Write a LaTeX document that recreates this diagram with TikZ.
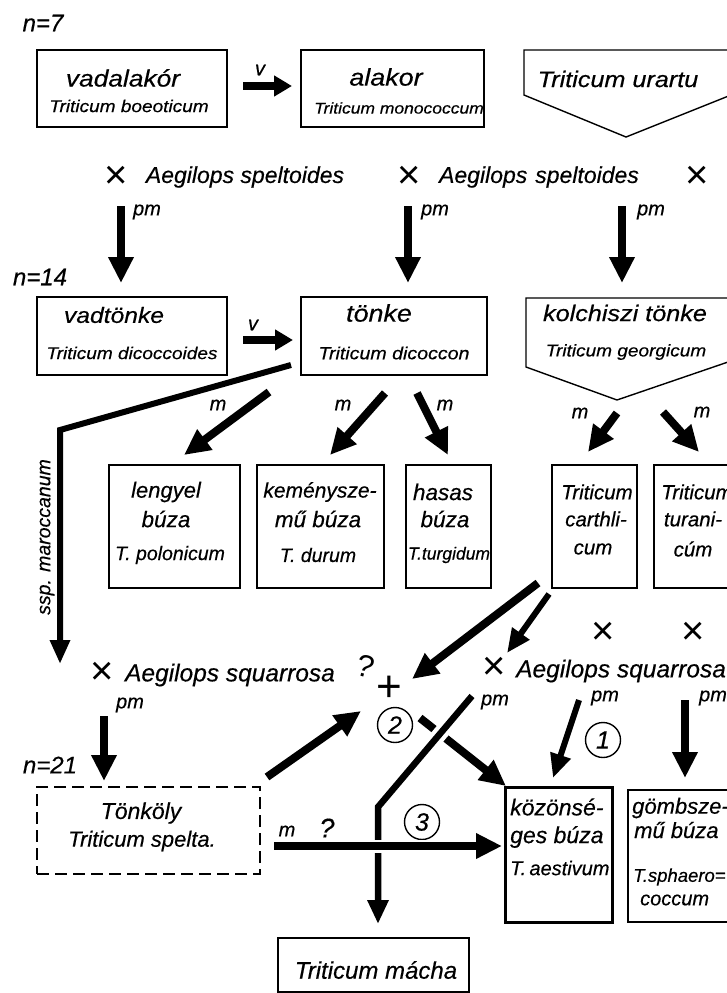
\documentclass[tikz,border=0pt]{standalone}
\usepackage{fontspec}
\setmainfont{Liberation Sans}[FakeBold=0.4]
\newfontfamily\widef{Liberation Sans}[FakeStretch=1.12, FakeBold=0.4]
\newfontfamily\plainf{Liberation Sans}
\usetikzlibrary{arrows.meta}
\newcommand\fsz[1]{\fontsize{#1}{#1}\selectfont\itshape}
\newcommand\wsz[1]{\widef\fontsize{#1}{#1}\selectfont\itshape}
\begin{document}
\begin{tikzpicture}[x=1pt,y=-1pt,
  box/.style={draw, line width=1.4pt, inner sep=0pt},
  txt/.style={inner sep=0pt, font=\fsz{#1}},
  wtxt/.style={inner sep=0pt, font=\wsz{#1}},
  crossx/.style={inner sep=0pt, font=\plainf\fontsize{40}{40}\selectfont},
  arr/.style={line width=8pt, -{Triangle[length=26pt,width=24pt]}},
  varr/.style={line width=8pt, -{Triangle[length=18pt,width=20pt]}},
  thinarr/.style={line width=6pt, -{Triangle[length=24pt,width=20pt]}},
  thickline/.style={line width=6.5pt},
  numc/.style={draw, circle, line width=1.4pt, minimum width=35pt, minimum height=33pt, inner sep=0pt, font=\fsz{25}}]
\useasboundingbox (0,0) rectangle (727,993);
\clip (0,0) rectangle (727,993);

% ---------- labels n ----------
\node[txt=24] (n7) at (43,23) {n=7};
\node[txt=24] (n14) at (40,277) {n=14};
\node[txt=24] (n21) at (50,765) {n=21};

% ---------- row 1 ----------
\node[box, minimum width=190pt, minimum height=77pt] (b1) at (132,88.5) {};
\node[wtxt=23.5] (t1a) at (123,78) {vadalakór};
\node[wtxt=17] (t1b) at (129,106) {Triticum boeoticum};
\node[box, minimum width=183pt, minimum height=77pt] (b2) at (392.5,88.5) {};
\node[wtxt=24] (t2a) at (386,77) {alakor};
\node[wtxt=15.6] (t2b) at (399,108) {Triticum monococcum};
\draw[box] (524,50) -- (524,95) -- (626,137) -- (731,95) -- (731,50) -- cycle;
\node[wtxt=22.5] (t3) at (618,79) {Triticum urartu};
\node[txt=20] (v1) at (260,70) {v};
\coordinate (v1s) at (243,86);
\coordinate (v1e) at (292,86);
\draw[varr] (v1s) -- (v1e);

% ---------- crosses with Aegilops speltoides ----------
\node[crossx] (x1) at (116,177) {×};
\node[txt=23] (ae1) at (245,177) {Aegilops speltoides};
\node[crossx] (x2) at (409,177) {×};
\node[txt=23] (ae2) at (539,177) {Aegilops\hspace{8pt}speltoides};
\node[crossx] (x3) at (697,177) {×};

\node[txt=20] (pm1) at (147,212) {pm};
\node[txt=20] (pm2) at (435,212) {pm};
\node[txt=20] (pm3) at (651,212) {pm};
\coordinate (a1s) at (121,206);
\coordinate (a1e) at (121,283);
\coordinate (a2s) at (408,206);
\coordinate (a2e) at (408,283);
\coordinate (a3s) at (622,206);
\coordinate (a3e) at (622,283);
\draw[arr] (a1s) -- (a1e);
\draw[arr] (a2s) -- (a2e);
\draw[arr] (a3s) -- (a3e);

% ---------- row 2 ----------
\node[box, minimum width=190pt, minimum height=78pt] (b4) at (132,336) {};
\node[wtxt=22] (t4a) at (114,315) {vadtönke};
\node[wtxt=17] (t4b) at (132,353) {Triticum dicoccoides};
\node[box, minimum width=186pt, minimum height=78pt] (b5) at (394,336) {};
\node[wtxt=24] (t5a) at (379,313) {tönke};
\node[wtxt=17.5] (t5b) at (394,353) {Triticum dicoccon};
\draw[box] (526,298) -- (526,367) -- (617,400) -- (731,361) -- (731,298) -- cycle;
\coordinate (p6tip) at (617,400);
\node[wtxt=22.5] (t6a) at (625,313) {kolchiszi tönke};
\node[wtxt=17] (t6b) at (626,352) {Triticum georgicum};
\node[txt=20] (v2) at (253,325) {v};
\coordinate (v2s) at (243,340);
\coordinate (v2e) at (293,340);
\draw[varr] (v2s) -- (v2e);

% ---------- ssp. maroccanum line ----------
\coordinate (s0) at (291,365);
\coordinate (s1) at (60,430);
\coordinate (s2) at (60,664);
\draw[line width=6pt, -{Triangle[length=24pt,width=19pt]}] (s0) -- (s1) -- (s2);
\node[txt=19.5, rotate=90] (ssp) at (47,537) {ssp. maroccanum};

% ---------- m arrows ----------
\node[txt=20] (m1) at (218,405) {m};
\node[txt=20] (m2) at (343,405) {m};
\node[txt=20] (m3) at (445,405) {m};
\node[txt=20] (m4) at (580,413) {m};
\node[txt=20] (m5) at (702,412) {m};
\coordinate (m1s) at (269,392);
\coordinate (m1e) at (184,455);
\coordinate (m2s) at (385,393);
\coordinate (m2e) at (330,455);
\coordinate (m3s) at (417,393);
\coordinate (m3e) at (448,455);
\coordinate (m4s) at (617,413);
\coordinate (m4e) at (588,452);
\coordinate (m5s) at (663,412);
\coordinate (m5e) at (699,452);
\draw[arr] (m1s) -- (m1e);
\draw[arr] (m2s) -- (m2e);
\draw[arr] (m3s) -- (m3e);
\draw[arr] (m4s) -- (m4e);
\draw[arr] (m5s) -- (m5e);

% ---------- row 3 ----------
\node[box, minimum width=131pt, minimum height=123pt] (b7) at (174.5,526.5) {};
\node[txt=22] (t7a) at (166,492) {lengyel};
\node[txt=22.5] (t7b) at (166,519) {búza};
\node[txt=19.5] (t7c) at (170,555) {T. polonicum};
\node[box, minimum width=127pt, minimum height=123pt] (b8) at (320.5,526.5) {};
\node[txt=21] (t8a) at (320,492) {keménysze-};
\node[txt=22.5] (t8b) at (318,519) {mű búza};
\node[txt=19.5] (t8c) at (318,555) {T. durum};
\node[box, minimum width=85pt, minimum height=123pt] (b9) at (448.5,526.5) {};
\node[txt=22.5] (t9a) at (443,492) {hasas};
\node[txt=22.5] (t9b) at (445,519) {búza};
\node[txt=17.5] (t9c) at (449,555) {T.turgidum};
\node[box, minimum width=85pt, minimum height=123pt] (b10) at (594.5,526.5) {};
\node[txt=20.5] (t10a) at (597,492) {Triticum};
\node[txt=20.5] (t10b) at (596,519) {carthli-};
\node[txt=20.5] (t10c) at (593,549) {cum};
\node[box, minimum width=91pt, minimum height=123pt] (b11) at (699.5,526.5) {};
\node[txt=20.5] (t11a) at (697,492) {Triticum};
\node[txt=20.5] (t11b) at (693,519) {turani-};
\node[txt=20.5] (t11c) at (693,549) {cúm};

% ---------- crossing from carthlicum ----------
\coordinate (cAs) at (538,583);
\coordinate (cAe) at (412,679);
\coordinate (cBs) at (549,594);
\coordinate (cBe) at (507,653);
\draw[arr] (cAs) -- (cAe);
\draw[thinarr] (cBs) -- (cBe);

\node[crossx] (x4) at (603,633) {×};
\node[crossx] (x5) at (693,633) {×};
\node[crossx] (x6) at (102,673) {×};
\node[txt=24.5] (sq1) at (230,675) {Aegilops squarrosa};
\node[crossx] (x7) at (494,668) {×};
\node[txt=24.5, anchor=west] (sq2) at (516,671) {Aegilops squarrosa};

\node[inner sep=0pt, font=\plainf\fontsize{31}{31}\selectfont, rotate=-15] (q1) at (366,666) {?};
\node[inner sep=0pt, font=\plainf\fontsize{44}{44}\selectfont] (cr) at (389,689) {+};
\node[numc] (c2) at (395,725) {2};
\node[numc] (c1) at (603,740) {1};
\node[numc] (c3) at (422,822) {3};

% ---------- pm arrows row 4 ----------
\node[txt=20] (pm4) at (130,705) {pm};
\node[txt=20] (pm5) at (495,702) {pm};
\node[txt=20] (pm6) at (605,698) {pm};
\node[txt=20] (pm7) at (713,698) {pm};
\coordinate (a4s) at (104,716);
\coordinate (a4e) at (104,781);
\coordinate (a6s) at (579,700);
\coordinate (a6e) at (553,778);
\coordinate (a7s) at (685,700);
\coordinate (a7e) at (685,778);
\draw[arr] (a4s) -- (a4e);
\draw[thinarr] (a6s) -- (a6e);
\draw[arr] (a7s) -- (a7e);

% ---------- row 4 ----------
\node[box, dashed, dash pattern=on 12pt off 6pt, minimum width=223pt, minimum height=87pt] (b12) at (148.5,830.5) {};
\node[txt=23] (t12a) at (141,813) {Tönköly};
\node[txt=22] (t12b) at (142,841) {Triticum spelta.};
\node[draw, line width=3pt, inner sep=0pt, minimum width=107pt, minimum height=135pt] (kb) at (558.5,854.5) {};
\node[txt=23, anchor=west] (tka) at (510,807) {közönsé-};
\node[txt=23, anchor=west] (tkb) at (510,837) {ges búza};
\node[txt=20, anchor=west] (tkc) at (510,868) {T.\,aestivum};
\node[box, minimum width=117pt, minimum height=132pt] (gb) at (686.5,856) {};
\node[txt=22, anchor=west] (tga) at (632,808) {gömbsze-};
\node[txt=22, anchor=west] (tgb) at (634,830) {mű búza};
\node[txt=18.5, anchor=west] (tgc) at (633,877) {T.sphaero=};
\node[txt=20, anchor=west] (tgd) at (640,900) {coccum};
\node[box, minimum width=191pt, minimum height=54pt] (mb) at (373.5,965) {};
\node[txt=24] (tm) at (376,970) {Triticum mácha};

% ---------- arrows around 2 and 3 ----------
\coordinate (d2s) at (267,777);
\coordinate (d2e) at (361,711);
\draw[arr] (d2s) -- (d2e);
\coordinate (k2s) at (420,718);
\coordinate (k2e) at (506,786);
\draw[arr] (k2s) -- (k2e);
\coordinate (g0) at (472,696);
\coordinate (g1) at (378,807);
\coordinate (g2) at (378,924);
\draw[thickline, preaction={draw=white, line width=15pt}, -{Triangle[length=24pt,width=20pt]}] (g0) -- (g1) -- (g2);
\node[txt=20] (m6) at (287,831) {m};
\node[txt=27] (q2) at (327,828) {?};
\coordinate (hs) at (274,846);
\coordinate (he) at (502,846);
\draw[arr, preaction={draw=white, line width=13pt, -}] (hs) -- (he);
\end{tikzpicture}
\end{document}
